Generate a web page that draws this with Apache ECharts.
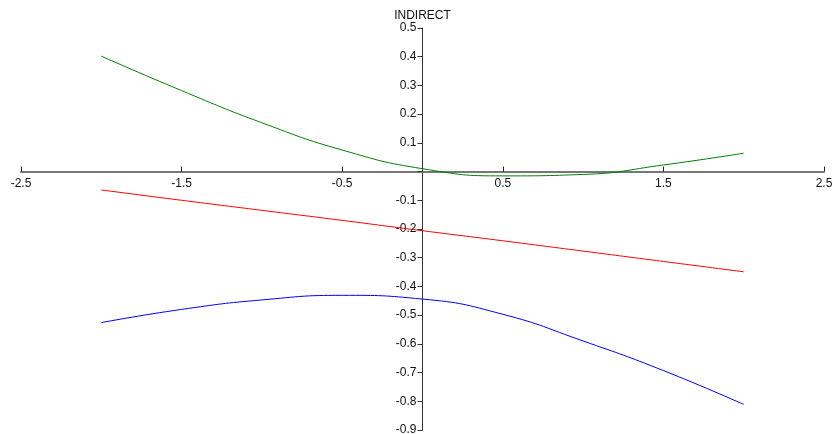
<!DOCTYPE html>
<html>
<head>
<meta charset="utf-8">
<script src="https://cdn.jsdelivr.net/npm/echarts@6/dist/echarts.min.js"></script>
<style>html,body{margin:0;padding:0;background:#fff}#c{width:834px;height:434px}</style>
</head>
<body>
<div id="c"></div>
<script>
var xs = [-2, -1.5, -1, -0.5, 0, 0.5, 1, 1.5, 2];
var greenVals = [0.402, 0.282, 0.170, 0.075, 0.010, -0.015, -0.010, 0.023, 0.064];
var redVals = [-0.064, -0.100, -0.135, -0.170, -0.206, -0.241, -0.277, -0.313, -0.349];
var blueVals = [-0.526, -0.480, -0.447, -0.431, -0.444, -0.497, -0.590, -0.693, -0.811];
var yName = 'INDIRECT';

function pairs(v){ return xs.map(function(x,i){ return [x, v[i]]; }); }

var gridLeft = 21, gridRight = 10, gridTop = 28, gridBottom = 4;
var H = 434;
var chart = echarts.init(document.getElementById('c'), null, {renderer:'canvas'});
chart.setOption({
  animation: false,
  grid: {left: gridLeft, right: gridRight, top: gridTop, bottom: gridBottom, containLabel: false, outerBoundsMode: 'none'},
  xAxis: {
    type: 'value', min: -2.5, max: 2.5, interval: 1, position: 'bottom', offset: 0,
    axisLine: {onZero: false, lineStyle: {color: '#777', width: 2}},
    axisTick: {inside: true, length: 5, lineStyle: {color: '#222', width: 1}},
    axisLabel: {color: '#111', fontSize: 12, fontFamily: 'Liberation Sans, Arial', margin: 6,
      formatter: function(v){ return (Math.round(v*10)/10).toString(); }},
    splitLine: {show: false}
  },
  yAxis: {
    type: 'value', min: -0.9, max: 0.5, interval: 0.1, position: 'left', offset: 0,
    name: yName, nameLocation: 'end', nameGap: 5,
    nameTextStyle: {color: '#111', fontSize: 12, fontFamily: 'Liberation Sans, Arial', align: 'center'},
    axisLine: {onZero: false, lineStyle: {color: '#333', width: 1}},
    axisTick: {inside: false, length: 5, lineStyle: {color: '#333', width: 1}},
    axisLabel: {color: '#111', fontSize: 12, fontFamily: 'Liberation Sans, Arial', margin: 6,
      formatter: function(v){ var r = Math.round(v*10)/10; return r === 0 ? '' : r.toString(); }},
    splitLine: {show: false}
  },
  series: [
    {type: 'line', data: pairs(greenVals), smooth: true, showSymbol: false, lineStyle: {color: '#008000', width: 1}, itemStyle:{color:'#008000'}},
    {type: 'line', data: pairs(redVals), smooth: true, showSymbol: false, lineStyle: {color: '#ff0000', width: 1}, itemStyle:{color:'#ff0000'}},
    {type: 'line', data: pairs(blueVals), smooth: true, showSymbol: false, lineStyle: {color: '#0000ff', width: 1}, itemStyle:{color:'#0000ff'}}
  ]
});
var px0 = chart.convertToPixel({xAxisIndex: 0}, 0);
var py0 = chart.convertToPixel({yAxisIndex: 0}, 0);
chart.setOption({
  xAxis: {offset: -((H - gridBottom) - py0)},
  yAxis: {offset: -(px0 - gridLeft)}
});
</script>
</body>
</html>
